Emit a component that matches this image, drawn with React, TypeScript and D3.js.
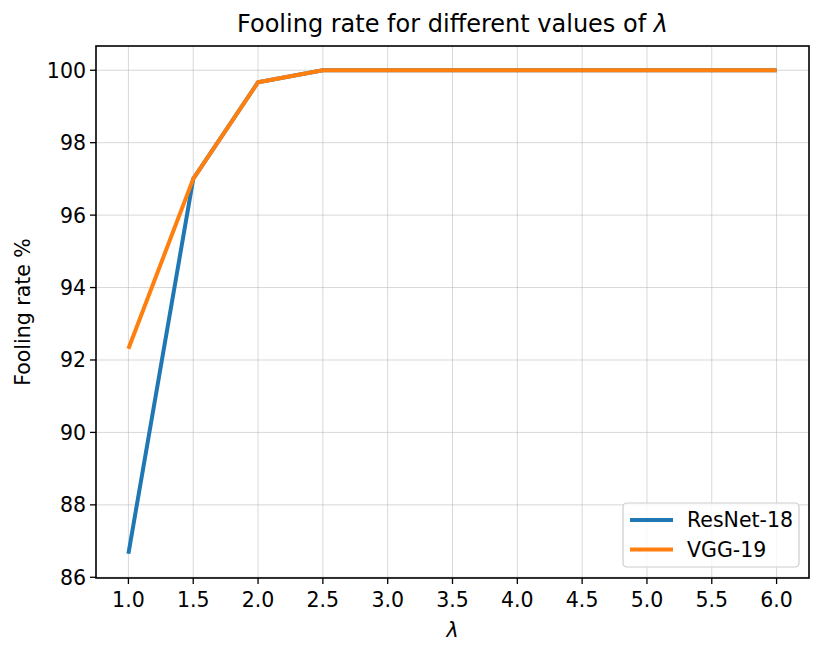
import { useEffect, useRef } from "react";
import * as d3 from "d3";

const lambdas = [1.0, 1.5, 2.0, 2.5, 3.0, 3.5, 4.0, 4.5, 5.0, 5.5, 6.0];
const resnet18 = [86.65, 97.0, 99.67, 100, 100, 100, 100, 100, 100, 100, 100];
const vgg19 = [92.31, 97.0, 99.67, 100, 100, 100, 100, 100, 100, 100, 100];
const xTicks = [1.0, 1.5, 2.0, 2.5, 3.0, 3.5, 4.0, 4.5, 5.0, 5.5, 6.0];
const yTicks = [86, 88, 90, 92, 94, 96, 98, 100];

const series = [
  { name: "ResNet-18", values: resnet18, color: "#1f77b4" },
  { name: "VGG-19", values: vgg19, color: "#ff7f0e" },
];

const W = 831;
const H = 653;
const m = { left: 96, right: 809, top: 46, bottom: 578 };
const font = "DejaVu Sans, sans-serif";
const fs = 20.5;

function App() {
  const ref = useRef<SVGSVGElement | null>(null);

  useEffect(() => {
    const svg = d3.select(ref.current);
    svg.selectAll("*").remove();

    const x = d3.scaleLinear().domain([0.75, 6.25]).range([m.left, m.right]);
    const y = d3.scaleLinear().domain([85.98, 100.67]).range([m.bottom, m.top]);

    // grid
    const grid = svg.append("g").attr("stroke", "#b0b0b0").attr("stroke-opacity", 0.55).attr("stroke-width", 0.9);
    xTicks.forEach((t) => {
      grid.append("line").attr("x1", x(t)).attr("x2", x(t)).attr("y1", m.top).attr("y2", m.bottom);
    });
    yTicks.forEach((t) => {
      grid.append("line").attr("y1", y(t)).attr("y2", y(t)).attr("x1", m.left).attr("x2", m.right);
    });

    // lines
    const line = d3
      .line<number>()
      .x((_, i) => x(lambdas[i]))
      .y((d) => y(d));

    svg.append("defs").append("clipPath").attr("id", "clip")
      .append("rect").attr("x", m.left).attr("y", m.top)
      .attr("width", m.right - m.left).attr("height", m.bottom - m.top);

    series.forEach((s) => {
      svg.append("path")
        .attr("d", line(s.values))
        .attr("fill", "none")
        .attr("stroke", s.color)
        .attr("stroke-width", 4)
        .attr("stroke-linejoin", "round")
        .attr("clip-path", "url(#clip)");
    });

    // axes frame
    svg.append("rect")
      .attr("x", m.left).attr("y", m.top)
      .attr("width", m.right - m.left).attr("height", m.bottom - m.top)
      .attr("fill", "none").attr("stroke", "black").attr("stroke-width", 1.6);

    // ticks
    const tk = svg.append("g").attr("font-family", font).attr("font-size", fs).attr("fill", "black");
    xTicks.forEach((t) => {
      tk.append("line").attr("x1", x(t)).attr("x2", x(t)).attr("y1", m.bottom).attr("y2", m.bottom + 6)
        .attr("stroke", "black").attr("stroke-width", 1.3);
      tk.append("text").attr("x", x(t)).attr("y", m.bottom + 29).attr("text-anchor", "middle").text(t.toFixed(1));
    });
    yTicks.forEach((t) => {
      tk.append("line").attr("x1", m.left - 6).attr("x2", m.left).attr("y1", y(t)).attr("y2", y(t))
        .attr("stroke", "black").attr("stroke-width", 1.3);
      tk.append("text").attr("x", m.left - 10).attr("y", y(t)).attr("dy", "0.36em")
        .attr("text-anchor", "end").text(String(t));
    });

    // labels
    svg.append("text")
      .attr("x", (m.left + m.right) / 2).attr("y", 32)
      .attr("text-anchor", "middle").attr("font-family", font).attr("font-size", 24)
      .text("Fooling rate for different values of ")
      .append("tspan").attr("font-style", "italic").text("λ");

    svg.append("text")
      .attr("x", (m.left + m.right) / 2).attr("y", 637)
      .attr("text-anchor", "middle").attr("font-family", font).attr("font-size", fs)
      .attr("font-style", "italic").text("λ");

    svg.append("text")
      .attr("transform", `translate(30, ${(m.top + m.bottom) / 2}) rotate(-90)`)
      .attr("text-anchor", "middle").attr("font-family", font).attr("font-size", fs)
      .text("Fooling rate %");

    // legend
    const lg = svg.append("g");
    lg.append("rect")
      .attr("x", 623).attr("y", 503).attr("width", 176).attr("height", 64).attr("rx", 4)
      .attr("fill", "white").attr("fill-opacity", 0.8).attr("stroke", "#cccccc").attr("stroke-width", 1.2);
    series.forEach((s, i) => {
      const ly = 520 + i * 29.5;
      lg.append("line").attr("x1", 630).attr("x2", 673).attr("y1", ly).attr("y2", ly)
        .attr("stroke", s.color).attr("stroke-width", 4);
      lg.append("text").attr("x", 687).attr("y", ly).attr("dy", "0.36em")
        .attr("font-family", font).attr("font-size", fs).text(s.name);
    });
  }, []);

  return <svg ref={ref} width={W} height={H} style={{ display: "block", margin: "-8px" }} />;
}

export default App;
